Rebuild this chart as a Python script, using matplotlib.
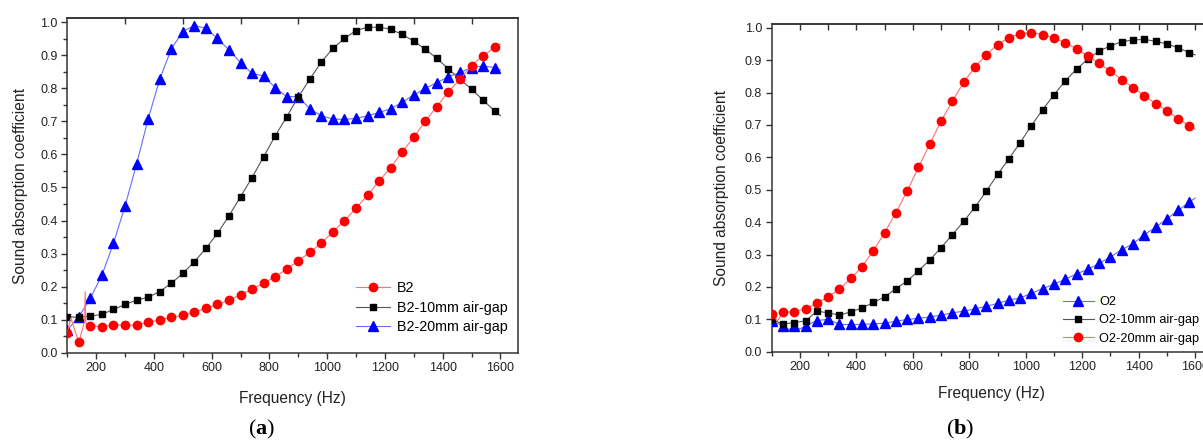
import numpy as np
import matplotlib
matplotlib.use("Agg")
import matplotlib.pyplot as plt

plt.rcParams['font.family'] = ['Liberation Sans', 'DejaVu Sans']
plt.rcParams['mathtext.fontset'] = 'custom'
plt.rcParams['mathtext.rm'] = 'Liberation Serif'
plt.rcParams['mathtext.bf'] = 'Liberation Serif:bold'

# frequencies where markers sit (Hz)
freq = [100, 140, 180, 220, 260, 300, 340, 380, 420, 460,
        500, 540, 580, 620, 660, 700, 740, 780, 820, 860,
        900, 940, 980, 1020, 1060, 1100, 1140, 1180, 1220, 1260,
        1300, 1340, 1380, 1420, 1460, 1500, 1540, 1580]

# panel (a)
b2 = [0.06, 0.031, 0.081, 0.079, 0.084, 0.084, 0.084, 0.092, 0.099, 0.107,
      0.113, 0.124, 0.134, 0.146, 0.159, 0.175, 0.193, 0.21, 0.23, 0.253,
      0.278, 0.304, 0.331, 0.366, 0.40, 0.437, 0.477, 0.52, 0.56, 0.608,
      0.652, 0.701, 0.745, 0.79, 0.827, 0.869, 0.899, 0.924]
b2_10 = [0.109, 0.107, 0.111, 0.116, 0.131, 0.146, 0.159, 0.168, 0.185, 0.21,
         0.24, 0.275, 0.316, 0.361, 0.414, 0.472, 0.53, 0.593, 0.656, 0.714,
         0.774, 0.828, 0.88, 0.921, 0.951, 0.975, 0.985, 0.985, 0.979, 0.963,
         0.943, 0.918, 0.891, 0.859, 0.827, 0.798, 0.764, 0.732]
b2_20 = [0.069, 0.109, 0.165, 0.235, 0.331, 0.444, 0.571, 0.707, 0.827, 0.919,
         0.972, 0.99, 0.982, 0.951, 0.916, 0.878, 0.845, 0.838, 0.802, 0.775,
         0.775, 0.738, 0.717, 0.707, 0.706, 0.709, 0.717, 0.727, 0.738, 0.758,
         0.78, 0.80, 0.817, 0.835, 0.848, 0.863, 0.868, 0.863]
# line-only points (no marker)
b2_xf, b2_xv = [112, 160, 162, 164, 1600], [0.105, 0.095, 0.185, 0.09, 0.934]
b2_10_xf, b2_10_xv = [1600], [0.717]
b2_20_xf, b2_20_xv = [1600], [0.855]

# panel (b)
o2 = [0.095, 0.08, 0.078, 0.08, 0.096, 0.1, 0.084, 0.084, 0.084, 0.086,
      0.088, 0.094, 0.0995, 0.103, 0.107, 0.113, 0.12, 0.125, 0.132, 0.14,
      0.149, 0.159, 0.166, 0.18, 0.195, 0.208, 0.224, 0.24, 0.254, 0.273,
      0.292, 0.315, 0.333, 0.361, 0.384, 0.41, 0.436, 0.462]
o2_10 = [0.10, 0.085, 0.09, 0.095, 0.125, 0.12, 0.113, 0.123, 0.135, 0.152,
         0.169, 0.195, 0.218, 0.25, 0.283, 0.321, 0.361, 0.402, 0.446, 0.495,
         0.547, 0.595, 0.645, 0.698, 0.747, 0.793, 0.836, 0.872, 0.903, 0.928,
         0.944, 0.957, 0.962, 0.964, 0.958, 0.95, 0.938, 0.923]
o2_20 = [0.115, 0.121, 0.124, 0.133, 0.149, 0.169, 0.193, 0.226, 0.262, 0.312,
         0.367, 0.429, 0.496, 0.569, 0.641, 0.712, 0.773, 0.831, 0.879, 0.916,
         0.948, 0.969, 0.982, 0.985, 0.979, 0.968, 0.954, 0.935, 0.913, 0.89,
         0.866, 0.84, 0.815, 0.79, 0.766, 0.744, 0.719, 0.697]
o2_xf, o2_xv = [160, 200, 1600], [0.068, 0.07, 0.474]
o2_10_xf, o2_10_xv = [1600], [0.916]
o2_20_xf, o2_20_xv = [120, 1600], [0.095, 0.687]

labels_a = ['B2', 'B2-10mm air-gap', 'B2-20mm air-gap']
labels_b = ['O2', 'O2-10mm air-gap', 'O2-20mm air-gap']

RED, BLACK, BLUE = '#ff0000', '#000000', '#0000ff'


def series(ax, vals, xf, xv, color, lcolor, marker, ms, label, z):
    # merge marker points with the extra line points, markers only on grid
    f = list(freq) + list(xf)
    v = list(vals) + list(xv)
    order = np.argsort(f, kind='stable')
    f = np.array(f)[order]
    v = np.array(v)[order]
    marked = [i for i, o in enumerate(order) if o < len(freq)]
    line, = ax.plot(f, v, color=lcolor, lw=0.8, marker=marker, ms=ms,
                    mfc=color, mec=color, markevery=marked, label=label,
                    zorder=z)
    return line


def style(ax, ymax, top_ticks, yminor):
    ax.set_xlim(100, 1660)
    ax.set_ylim(0, ymax)
    ax.set_xticks([200, 400, 600, 800, 1000, 1200, 1400, 1600])
    ax.set_xticks(np.arange(100, 1600, 200), minor=True)
    ax.set_yticks(np.arange(0, 1.01, 0.1))
    ax.set_yticklabels(['%.1f' % t for t in np.arange(0, 1.01, 0.1)])
    if yminor:
        ax.set_yticks(np.arange(0.05, 1.0, 0.1), minor=True)
    for s in ax.spines.values():
        s.set_color('#333333')
        s.set_linewidth(1.1)
    ax.tick_params(which='major', direction='out', length=4, width=1,
                   color='#333333', labelsize=9, pad=3, labelcolor='#222222')
    ax.tick_params(which='minor', direction='out', length=3, width=1,
                   color='#333333')
    sec = ax.secondary_xaxis('top')
    sec.set_xticks(top_ticks)
    sec.tick_params(direction='in', length=4, width=1, color='#333333',
                    labeltop=False)
    sec.spines['top'].set_color('#333333')
    sec.spines['top'].set_linewidth(1.1)
    ax.set_xlabel('Frequency (Hz)', fontsize=11.2, color='#222222')
    ax.set_ylabel('Sound absorption coefficient', fontsize=11.2,
                  color='#222222')


fig = plt.figure(figsize=(12.03, 4.41), dpi=100)

# panel (a)
ax1 = fig.add_axes([0.05594, 0.2002, 0.3744, 0.7583])
la3 = series(ax1, b2_20, b2_20_xf, b2_20_xv, BLUE, '#6a6aff', '^', 6.5, labels_a[2], 3)
la2 = series(ax1, b2_10, b2_10_xf, b2_10_xv, BLACK, '#555555', 's', 5, labels_a[1], 4)
la1 = series(ax1, b2, b2_xf, b2_xv, RED, '#ff7070', 'o', 6, labels_a[0], 5)
style(ax1, 1.012, [300, 500, 700, 900, 1100, 1300, 1500], True)
ax1.xaxis.set_label_coords(0.5, -0.113)
ax1.yaxis.set_label_coords(-0.088, 0.5)
ax1.legend([la1, la2, la3], labels_a, loc='upper left',
           bbox_to_anchor=(356 / 1203, 1 - 281 / 441),
           bbox_transform=fig.transFigure, frameon=False, borderpad=0,
           handlelength=2.4, handletextpad=0.45, labelspacing=0.4,
           fontsize=10.3, borderaxespad=0)

# panel (b)
ax2 = fig.add_axes([0.6415, 0.2025, 0.366, 0.742])
lb1 = series(ax2, o2, o2_xf, o2_xv, BLUE, '#6a6aff', '^', 6.5, labels_b[0], 3)
lb2 = series(ax2, o2_10, o2_10_xf, o2_10_xv, BLACK, '#555555', 's', 5, labels_b[1], 4)
lb3 = series(ax2, o2_20, o2_20_xf, o2_20_xv, RED, '#ff7070', 'o', 6, labels_b[2], 5)
style(ax2, 1.01, np.arange(200, 1601, 100), False)
ax2.xaxis.set_label_coords(0.5, -0.106)
ax2.yaxis.set_label_coords(-0.097, 0.5)
ax2.legend([lb1, lb2, lb3], labels_b, loc='upper left',
           bbox_to_anchor=(1063 / 1203, 1 - 296 / 441),
           bbox_transform=fig.transFigure, frameon=False, borderpad=0,
           handlelength=2.4, handletextpad=0.45, labelspacing=0.5,
           fontsize=9.2, borderaxespad=0)

fig.text(262 / 1203, 1 - 429 / 441, r'($\mathbf{a}$)', fontsize=16,
         ha='center', va='center', family='Liberation Serif')
fig.text(960 / 1203, 1 - 429 / 441, r'($\mathbf{b}$)', fontsize=16,
         ha='center', va='center', family='Liberation Serif')

fig.savefig('out.png', dpi=100)
